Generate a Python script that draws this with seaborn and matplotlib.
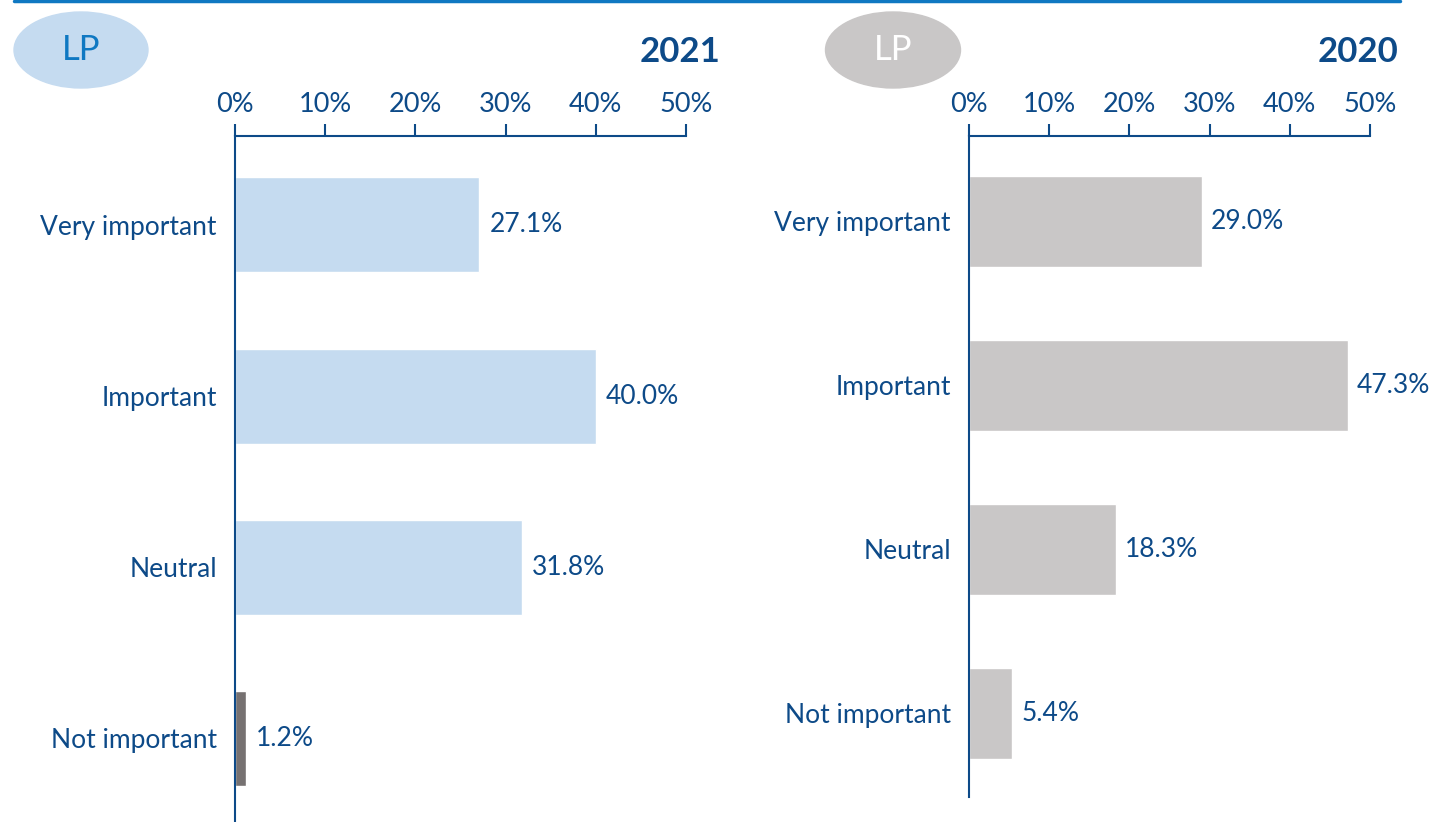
import matplotlib
matplotlib.use("Agg")
import matplotlib.pyplot as plt
import seaborn as sns
import pandas as pd
from matplotlib.patches import Ellipse
from matplotlib.lines import Line2D

# ============================================================
# DATA
# ============================================================

CATEGORIES = ["Very important", "Important", "Neutral", "Not important"]
VALUES_2021 = [27.1, 40.0, 31.8, 1.2]
VALUES_2020 = [29.0, 47.3, 18.3, 5.4]
TICKS = [0, 10, 20, 30, 40, 50]
TICK_LABELS = ["0%", "10%", "20%", "30%", "40%", "50%"]

NAVY = "#0d4a88"
LIGHT_BLUE = "#c5dbf0"
GREY = "#c9c7c7"
DARK_GREY = "#767171"
BRIGHT_BLUE = "#0f78c2"

W, H = 1429, 822

sns.set_style("white")
plt.rcParams["font.family"] = ["Lato", "DejaVu Sans"]

fig = plt.figure(figsize=(W / 100, H / 100), dpi=100)


def px_axes(left, right, top, bottom):
    return fig.add_axes([left / W, 1 - bottom / H, (right - left) / W, (bottom - top) / H])


def draw_panel(ax, values, colors, ylim):
    df = pd.DataFrame({"Category": CATEGORIES, "Value": values})
    sns.barplot(data=df, x="Value", y="Category", hue="Category", palette=colors,
                orient="h", width=0.555, legend=False, ax=ax, saturation=1)
    ax.set_xlim(0, 50)
    ax.set_ylim(*ylim)
    ax.set_xlabel("")
    ax.set_ylabel("")
    for s in ["right", "bottom"]:
        ax.spines[s].set_visible(False)
    for s in ["left", "top"]:
        ax.spines[s].set_color(NAVY)
        ax.spines[s].set_linewidth(1.5)
    ax.xaxis.tick_top()
    ax.set_xticks(TICKS)
    ax.set_xticklabels(TICK_LABELS)
    ax.tick_params(axis="x", direction="out", length=9, width=1.5, color=NAVY,
                   labelcolor=NAVY, labelsize=19.5, pad=5)
    ax.tick_params(axis="y", length=0, labelcolor=NAVY, labelsize=19, pad=13)
    for i, v in enumerate(values):
        ax.text(v + 1.1, i, f"{v:.1f}%", va="center", ha="left", fontsize=19, color=NAVY)


ax1 = px_axes(235, 686, 136, 822)
draw_panel(ax1, VALUES_2021, [LIGHT_BLUE, LIGHT_BLUE, LIGHT_BLUE, DARK_GREY], (3.49, -0.52))

ax2 = px_axes(969, 1370, 136, 797)
draw_panel(ax2, VALUES_2020, [GREY] * 4, (3.51, -0.52))

fig.text(720 / W, 1 - 52 / H, "2021", ha="right", va="center", fontsize=25,
         fontweight="bold", color=NAVY)
fig.text(1398 / W, 1 - 52 / H, "2020", ha="right", va="center", fontsize=25,
         fontweight="bold", color=NAVY)

# decorative header elements
fig.add_artist(Line2D([14 / W, 1400 / W], [1 - 1.5 / H, 1 - 1.5 / H], color=BRIGHT_BLUE, lw=2.5,
                      transform=fig.transFigure))
fig.add_artist(Ellipse((81 / W, 1 - 50 / H), 134 / W, 76 / H, color=LIGHT_BLUE,
                       transform=fig.transFigure))
fig.text(81 / W, 1 - 50 / H, "LP", ha="center", va="center", fontsize=25, color=BRIGHT_BLUE)
fig.add_artist(Ellipse((893 / W, 1 - 50 / H), 135 / W, 76 / H, color=GREY,
                       transform=fig.transFigure))
fig.text(893 / W, 1 - 50 / H, "LP", ha="center", va="center", fontsize=25, color="white")

fig.savefig("out.png", dpi=100)
